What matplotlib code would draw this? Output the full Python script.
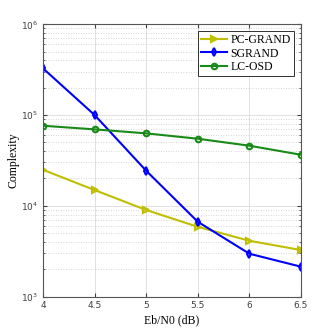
import matplotlib
matplotlib.use('Agg')
import matplotlib.pyplot as plt

# values
ebn0 = [4, 4.5, 5, 5.5, 6, 6.5]
pc_grand = [24900, 14900, 8980, 5860, 4110, 3250]
sgrand = [327000, 100000, 24300, 6660, 2960, 2130]
lc_osd = [76200, 69500, 62800, 54800, 45900, 36500]
x_ticks = [4, 4.5, 5, 5.5, 6, 6.5]
x_labels = ['4', '4.5', '5', '5.5', '6', '6.5']

fig = plt.figure(figsize=(3.32, 3.34), dpi=100)
ax = fig.add_axes([43/332, 1 - 296.5/334, 258/332, 272.2/334])

ax.plot(ebn0, pc_grand, color='#BFBF00', marker='>', markersize=4, mfc='none', mew=1.5, lw=1.5, label='PC-GRAND')
ax.plot(ebn0, sgrand, color='#0000FF', marker='d', markersize=4, mfc='none', mew=1.5, lw=1.5, label='SGRAND')
ax.plot(ebn0, lc_osd, color='#178A17', marker='o', markersize=4, mfc='none', mew=1.5, lw=1.5, label='LC-OSD')

ax.set_yscale('log')
ax.set_ylim(1e3, 1e6)
ax.set_xlim(4, 6.5)
ax.set_xticks(x_ticks)
ax.set_xticklabels(x_labels)

ax.grid(True, which='major', color='#e0e0e0', lw=0.7, ls='-')
ax.grid(True, which='minor', color='#c8c8c8', lw=0.6, ls=(0, (1, 2)))
ax.set_axisbelow(True)

for s in ax.spines.values():
    s.set_color('#555555')
    s.set_linewidth(0.8)
ax.tick_params(axis='both', which='both', direction='in', colors='#404040', labelsize=6.5, length=3)
ax.tick_params(axis='both', which='minor', length=1.5)
ax.tick_params(axis='both', which='both', top=True, right=True)

ax.set_xlabel('Eb/N0 (dB)', family='Liberation Serif', fontsize=8.5, labelpad=3)
ax.set_ylabel('Complexity', family='Liberation Serif', fontsize=8.5, labelpad=1)

leg = ax.legend(loc='upper right', prop={'family': 'Liberation Serif', 'size': 8.5},
                fancybox=False, edgecolor='#303030', framealpha=1,
                handlelength=2.2, handletextpad=0.3, borderpad=0.25, labelspacing=0.1,
                borderaxespad=0.6)
leg.get_frame().set_linewidth(0.7)

fig.savefig('out.png', dpi=100)
